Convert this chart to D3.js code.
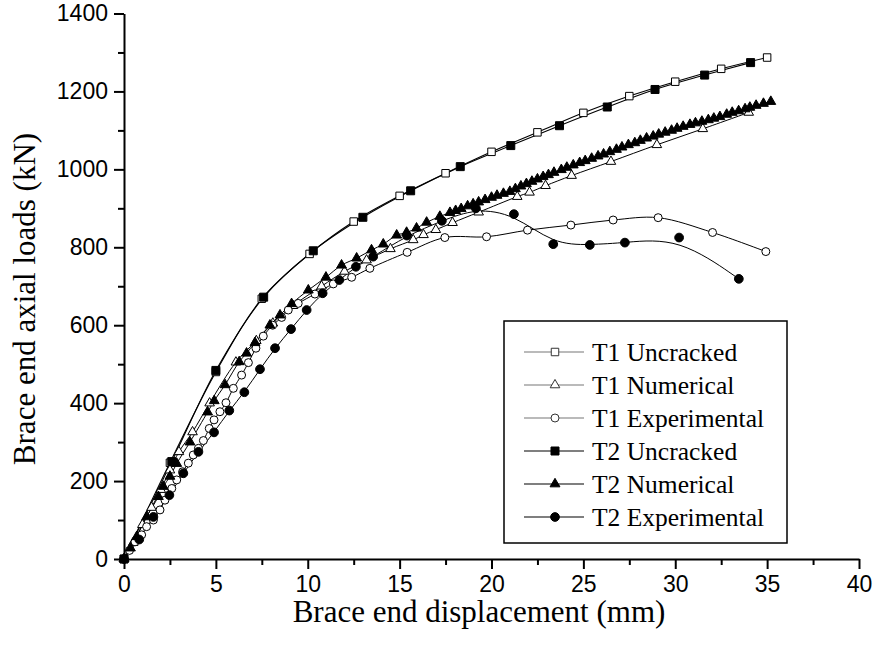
<!DOCTYPE html>
<html>
<head>
<meta charset="utf-8">
<script src="https://cdn.jsdelivr.net/npm/d3@7"></script>
<style>
  html, body { margin: 0; padding: 0; background: #fff; }
  svg { display: block; }
</style>
</head>
<body>
<svg id="chart" width="874" height="655"></svg>
<script>
// ---- Data ----
const xTicks = [0, 5, 10, 15, 20, 25, 30, 35, 40];
const xMinorTicks = [2.5, 7.5, 12.5, 17.5, 22.5, 27.5, 32.5, 37.5];
const yTicks = [0, 200, 400, 600, 800, 1000, 1200, 1400];
const yMinorTicks = [100, 300, 500, 700, 900, 1100, 1300];

const seriesNames = ["T1 Uncracked", "T1 Numerical", "T1 Experimental",
                     "T2 Uncracked", "T2 Numerical", "T2 Experimental"];

const t1Uncracked = [[0,0],[2.5,247],[5.0,480],[7.5,668],[10.1,783],[12.5,866],[15.0,932],
  [17.5,990],[20.0,1045],[22.5,1095],[25.0,1145],[27.5,1188],[30.0,1225],[32.5,1258],[35.0,1287]];

const t2Uncracked = [[0,0],[2.6,250],[5.0,484],[7.6,672],[10.3,791],[13.0,877],[15.6,945],
  [18.3,1007],[21.05,1061],[23.7,1112],[26.3,1160],[28.9,1205],[31.6,1242],[34.1,1274]];

const t1Numerical = [[0,0],[0.5,42],[1.0,88],[1.5,132],[2.0,178],[2.5,228],[2.99,275],[3.73,326],
  [4.66,400],[6.09,505],[7.2,560],[8.1,605],[9.2,650],[10.75,700],[12.0,738],[13.2,767],[14.5,796],
  [15.74,819],[16.3,832],[16.97,845],[17.88,863],[19.3,890],[21.4,930],[22.07,941],[22.94,958],
  [24.36,984],[26.5,1020],[29.0,1063],[31.5,1104],[34.0,1146]];

const t2Numerical = [[0,0],[0.35,28],[0.69,57],[1.23,108],[1.87,160],[2.14,186],[2.5,212],[2.87,245],
  [3.59,300],[4.55,377],[4.91,406],[5.5,447],[6.27,506],[6.67,528],[7.13,555],[7.94,600],[8.49,626],
  [9.12,655],[10.03,690],[10.99,723],[11.84,754],[12.66,772],[13.47,793],[14.11,808],[14.84,831],
  [15.38,838],[15.92,849],[16.47,864],[17.19,879],[17.74,889],[18.05,894],[18.35,899],[18.7,906],
  [19.0,911],[19.3,916],[19.65,922],[20.0,928],[20.3,933],[20.65,938],[21.0,943],[21.3,950],
  [21.6,957],[21.9,963],[22.2,969],[22.5,975],[22.81,981],[23.1,986],[23.4,992],[23.8,999],
  [24.1,1005],[24.45,1011],[24.8,1017],[25.1,1022],[25.45,1028],[25.8,1034],[26.1,1039],[26.44,1045],
  [26.8,1051],[27.1,1057],[27.45,1063],[27.8,1068],[28.1,1074],[28.44,1080],[28.8,1085],[29.1,1090],
  [29.45,1095],[29.8,1100],[30.1,1105],[30.43,1110],[30.8,1115],[31.1,1119],[31.45,1123],[31.8,1127],
  [32.1,1131],[32.43,1135],[32.8,1141],[33.1,1146],[33.45,1150],[33.8,1155],[34.06,1159],[34.4,1164],
  [34.8,1169],[35.2,1174]];

const t1Experimental = [[0,0],[0.3,22],[0.6,44],[0.96,62],[1.23,83],[1.6,100],[1.96,126],[2.23,151],
  [2.6,181],[2.87,203],[3.19,224],[3.5,246],[3.77,267],[4.05,284],[4.32,304],[4.64,335],[4.9,357],
  [5.22,378],[5.55,401],[5.95,438],[6.4,472],[6.77,504],[7.18,541],[7.58,572],[8.09,600],[8.58,620],
  [8.94,639],[9.48,656],[10.39,680],[11.39,706],[12.39,723],[13.38,746],[15.41,787],[17.46,825],
  [19.73,827],[21.96,844],[24.32,857],[26.62,870],[29.07,876],[32.03,838],[34.93,789]];

const t2Experimental = [[0,0],[0.83,50],[1.6,108],[2.47,164],[3.23,220],[4.05,275],[4.9,325],
  [5.73,381],[6.55,428],[7.4,487],[8.22,541],[9.09,590],[9.94,639],[10.81,682],[11.72,716],
  [12.62,750],[13.56,776],[15.4,830],[17.3,868],[19.15,900],[21.22,885],[23.36,808],[25.35,806],
  [27.26,812],[30.21,825],[33.46,719]];

// ---- Layout ----
const svg = d3.select("#chart");
const x = d3.scaleLinear().domain([0, 40]).range([124, 859]);
const y = d3.scaleLinear().domain([0, 1400]).range([559, 13.5]);

const tickFont = "'Liberation Sans', Arial, sans-serif";
const serifFont = "'Liberation Serif', 'Times New Roman', serif";

// ---- Series definitions ----
const series = [
  { name: seriesNames[0], data: t1Uncracked, shape: "square", fill: "#fff", curve: d3.curveCatmullRom, width: 1.1, legendStroke: "#777" },
  { name: seriesNames[1], data: t1Numerical, shape: "triangle", fill: "#fff", curve: d3.curveCatmullRom, width: 1, legendStroke: "#777" },
  { name: seriesNames[2], data: t1Experimental, shape: "circle", fill: "#fff", curve: d3.curveCatmullRom, width: 1, legendStroke: "#777" },
  { name: seriesNames[3], data: t2Uncracked, shape: "square", fill: "#000", curve: d3.curveCatmullRom, width: 1.1, legendStroke: "#000" },
  { name: seriesNames[4], data: t2Numerical, shape: "triangle", fill: "#000", curve: d3.curveCatmullRom, width: 1, legendStroke: "#000" },
  { name: seriesNames[5], data: t2Experimental, shape: "circle", fill: "#000", curve: d3.curveBasis, width: 1, legendStroke: "#000" }
];

function symbolPath(shape, filled) {
  if (shape === "square") return d3.symbol().type(d3.symbolSquare).size(filled ? 64 : 56)();
  if (shape === "triangle") return d3.symbol().type(d3.symbolTriangle).size(filled ? 42 : 40)();
  return d3.symbol().type(d3.symbolCircle).size(filled ? 60 : 50)();
}

// ---- Lines ----
const gLines = svg.append("g");
series.forEach(s => {
  const line = d3.line().x(d => x(d[0])).y(d => y(d[1])).curve(s.curve);
  gLines.append("path")
    .attr("d", line(s.data))
    .attr("fill", "none")
    .attr("stroke", "#000")
    .attr("stroke-width", s.width);
});

// ---- Markers ----
const gMarks = svg.append("g");
series.forEach(s => {
  const filled = s.fill === "#000";
  gMarks.append("g").selectAll("path").data(s.data).join("path")
    .attr("d", symbolPath(s.shape, filled))
    .attr("transform", d => `translate(${x(d[0])},${y(d[1])})`)
    .attr("fill", s.fill)
    .attr("stroke", "#000")
    .attr("stroke-width", 1);
});

// ---- Axes ----
function styleAxis(g) {
  g.selectAll("path.domain").attr("stroke", "#000").attr("stroke-width", 2);
  g.selectAll(".tick line").attr("stroke", "#000").attr("stroke-width", 2);
  g.selectAll(".tick text").attr("font-family", tickFont).attr("font-size", 23).attr("fill", "#000");
}

const xAxisMinor = svg.append("g").attr("transform", "translate(0,559)")
  .call(d3.axisBottom(x).tickValues(xMinorTicks).tickSize(6).tickSizeOuter(0).tickFormat(""));
xAxisMinor.select("path.domain").remove();
styleAxis(xAxisMinor);

const xAxis = svg.append("g").attr("transform", "translate(0,559)")
  .call(d3.axisBottom(x).tickValues(xTicks).tickSize(10).tickSizeOuter(0).tickPadding(7).tickFormat(d3.format("d")));
styleAxis(xAxis);

const yAxisMinor = svg.append("g").attr("transform", "translate(124,0)")
  .call(d3.axisLeft(y).tickValues(yMinorTicks).tickSize(6).tickSizeOuter(0).tickFormat(""));
yAxisMinor.select("path.domain").remove();
styleAxis(yAxisMinor);

const yAxis = svg.append("g").attr("transform", "translate(124,0)")
  .call(d3.axisLeft(y).tickValues(yTicks).tickSize(10).tickSizeOuter(0).tickPadding(6).tickFormat(d3.format("d")));
styleAxis(yAxis);

// ---- Axis titles ----
svg.append("text")
  .attr("x", 479).attr("y", 622)
  .attr("text-anchor", "middle")
  .attr("font-family", serifFont).attr("font-size", 31).attr("fill", "#000")
  .text("Brace end displacement (mm)");

svg.append("text")
  .attr("transform", "translate(35,299) rotate(-90)")
  .attr("text-anchor", "middle")
  .attr("font-family", serifFont).attr("font-size", 31).attr("fill", "#000")
  .text("Brace end axial loads (kN)");

// ---- Legend ----
const legend = svg.append("g");
legend.append("rect")
  .attr("x", 504).attr("y", 321).attr("width", 283).attr("height", 222)
  .attr("fill", "#fff").attr("stroke", "#000").attr("stroke-width", 1.5);

series.forEach((s, i) => {
  const cy = 352 + i * 33;
  const filled = s.fill === "#000";
  legend.append("line")
    .attr("x1", 524).attr("x2", 584).attr("y1", cy).attr("y2", cy)
    .attr("stroke", s.legendStroke).attr("stroke-width", 1.2);
  legend.append("path")
    .attr("d", symbolPath(s.shape, filled))
    .attr("transform", `translate(555,${cy})`)
    .attr("fill", s.fill).attr("stroke", filled ? "#000" : "#333").attr("stroke-width", 1);
  legend.append("text")
    .attr("x", 592).attr("y", cy + 9)
    .attr("font-family", serifFont).attr("font-size", 25.5).attr("fill", "#000")
    .text(s.name);
});
</script>
</body>
</html>
